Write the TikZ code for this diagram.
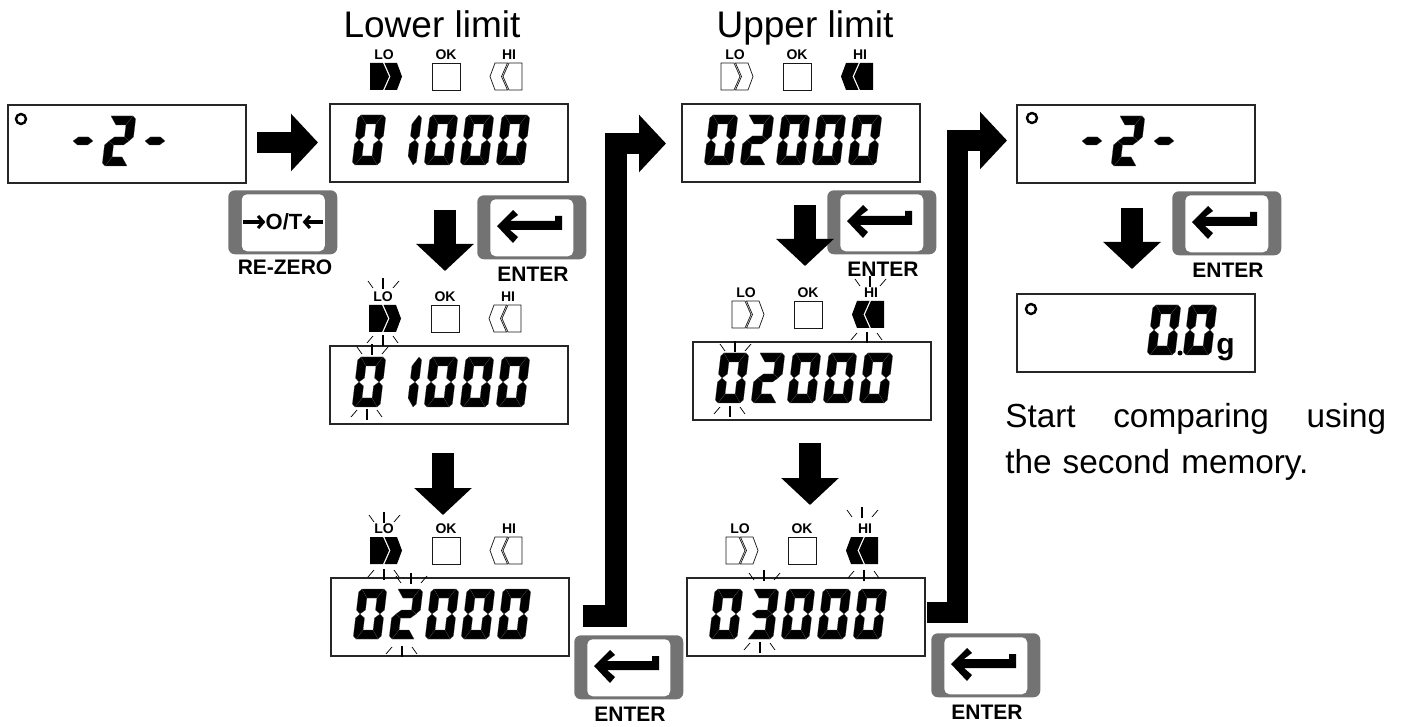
\documentclass[tikz,border=0pt]{standalone}
\usepackage{fontspec}
\setmainfont{Liberation Sans}
\usetikzlibrary{arrows.meta}

\tikzset{
  lcdbox/.style={draw=black!85,line width=0.8pt,fill=white,inner sep=0,outer sep=0,anchor=north west,minimum width=178.5pt,minimum height=58.5pt},
  lcdseg/.style={fill=black,draw=black!70,line width=0.12pt},
  lcddot/.style={draw=black,line width=1.8pt,fill=white,circle,inner sep=0,minimum size=7.5pt},
  lampon/.style={fill=black},
  lampoff/.style={fill=white,draw=black!90,line width=0.55pt},
  lamplabel/.style={font=\fontsize{10.5}{12}\selectfont\bfseries,inner sep=0},
  keybody/.style={fill=black!55,rounded corners=5pt,inner sep=0,anchor=north west,minimum width=81.75pt,minimum height=48pt},
  keyface/.style={fill=white,rounded corners=4pt,inner sep=0,anchor=north west,minimum width=62.25pt,minimum height=42.75pt},
  keylabel/.style={font=\fontsize{15.75}{18}\selectfont\bfseries,inner sep=0},
  headline/.style={font=\fontsize{27.75}{33}\selectfont,inner sep=0,anchor=base},
  blockarrow/.style={line width=16pt,line join=miter,-{Triangle[length=20.25pt,width=42pt]}},
  keyarrow/.style={line width=2.3pt,-{Straight Barb[length=4pt,width=9pt]}},
  blinkthick/.style={line width=1.3pt},
  blinkthin/.style={line width=0.55pt},
}

% segments of one digit, origin at its lower left corner
\def\segA{(3,50)--(25,50)--(19,41)--(9,41)--cycle}
\def\segB{(25,50)--(28,47)--(28,29)--(24,25)--(19,29)--(19,41)--cycle}
\def\segC{(28,21)--(24,25)--(19,21)--(19,9)--(25,0)--(28,3)--cycle}
\def\segD{(3,0)--(25,0)--(19,9)--(9,9)--cycle}
\def\segE{(0,21)--(4,25)--(9,21)--(9,9)--(3,0)--(0,3)--cycle}
\def\segF{(3,50)--(0,47)--(0,29)--(4,25)--(9,29)--(9,41)--cycle}
\def\segG{(4,25)--(9,29)--(19,29)--(24,25)--(19,21)--(9,21)--cycle}
\def\segX{(0,0)}
\expandafter\def\csname dig0\endcsname{A,B,C,D,E,F}
\expandafter\def\csname dig1\endcsname{B,C}
\expandafter\def\csname dig2\endcsname{A,B,G,E,D}
\expandafter\def\csname dig3\endcsname{A,B,G,C,D}
\expandafter\def\csname digm\endcsname{G}
\expandafter\def\csname digx\endcsname{X}

% box left, box top, characters
\newcommand{\lcdnum}[3]{
  \foreach \d [count=\i from 0] in {#3} {
    \begin{scope}[shift={(#1+22+36*\i,#2+61)},y=0.75pt,xslant=0.12]
      \expandafter\let\expandafter\seglist\csname dig\d\endcsname
      \foreach \s in \seglist { \path[lcdseg] \csname seg\s\endcsname; }
    \end{scope}
  }
}

% one chevron lamp
\newcommand{\lamp}[2]{
  \path[#1] #2 (0,0)--(13,0)--(19,13.5)--(13,27)--(0,27)--cycle;
  \path[#1] #2 (14.5,0)--(27,0)--(32,13.5)--(27,27)--(14.5,27)--(20.5,13.5)--cycle;
}

% name, x, y, state of LO, state of HI
\newcommand{\lamprow}[5]{
  \node[lamplabel] (#1lo) at (#2+14,#3-8) {LO};
  \node[lamplabel] (#1ok) at (#2+76,#3-8) {OK};
  \node[lamplabel] (#1hi) at (#2+139,#3-8) {HI};
  \begin{scope}[shift={(#2,#3)}] \lamp{#4}{} \end{scope}
  \path[lampoff] (#2+62,#3) rectangle (#2+90,#3+27);
  \begin{scope}[shift={(#2+152,#3)},xscale=-1] \lamp{#5}{} \end{scope}
}

\newcommand{\blinkup}[2]{
  \draw[blinkthick] (#1,#2) -- (#1,#2-11);
  \draw[blinkthin] (#1-10,#2-1) -- (#1-15,#2-8);
  \draw[blinkthin] (#1+10,#2-1) -- (#1+16,#2-8);
}
\newcommand{\blinkdown}[2]{
  \draw[blinkthick] (#1,#2) -- (#1,#2+11);
  \draw[blinkthin] (#1-10,#2+1) -- (#1-16,#2+8);
  \draw[blinkthin] (#1+10,#2+1) -- (#1+15,#2+8);
}

% name, x, y of the key
\newcommand{\enterkey}[3]{
  \node[keybody] (#1) at (#2,#3) {};
  \node[keyface] (#1face) at (#2+13,#3+4) {};
  \begin{scope}[shift={(#2,#3)}]
    \fill (85,21)--(85,35)--(33,35)--(41,42)--(36,48)--(20,31)--(36,15)--(41,20)--(33,26)--(78,26)--(78,21)--cycle;
    \node[keylabel] (#1label) at (56,79) {ENTER};
  \end{scope}
}

\begin{document}
\begin{tikzpicture}[x=0.75pt,y=-0.75pt]
  \useasboundingbox (0,0) rectangle (1404,727);

  \node[headline] (lowerTitle) at (432,38) {Lower limit};
  \node[headline] (upperTitle) at (805,38) {Upper limit};

  % left column
  \node[lcdbox] (boxStart) at (8,105) {};
  \node[lcddot] (dotStart) at (21,119) {};
  \lcdnum{8}{105}{x,m,2,m}

  \lamprow{rowB}{370}{63}{lampon}{lampoff}
  \node[lcdbox] (boxLow) at (330,104) {};
  \lcdnum{330}{104}{0,1,0,0,0}

  \lamprow{rowC}{369}{305}{lampon}{lampoff}
  \node[lcdbox] (boxLowBlink) at (330,346) {};
  \lcdnum{330}{346}{0,1,0,0,0}
  \blinkup{383}{289}
  \blinkdown{383}{335}
  \blinkup{372}{355}
  \blinkdown{367}{409}

  \lamprow{rowD}{370}{537}{lampon}{lampoff}
  \node[lcdbox] (boxLowSet) at (331,578) {};
  \lcdnum{331}{578}{0,2,0,0,0}
  \blinkup{384}{523}
  \blinkdown{384}{569}
  \blinkup{411}{584}
  \blinkdown{402}{646}

  % middle column
  \lamprow{rowE}{721}{63}{lampoff}{lampon}
  \node[lcdbox] (boxUp) at (682,104) {};
  \lcdnum{682}{104}{0,2,0,0,0}

  \lamprow{rowF}{732}{301}{lampoff}{lampon}
  \node[lcdbox] (boxUpBlink) at (693,342) {};
  \lcdnum{693}{342}{0,2,0,0,0}
  \blinkup{870}{287}
  \blinkdown{867}{332}
  \blinkup{735}{352}
  \blinkdown{730}{406}

  \lamprow{rowG}{726}{537}{lampoff}{lampon}
  \node[lcdbox] (boxUpSet) at (687,578) {};
  \lcdnum{687}{578}{0,3,0,0,0}
  \blinkup{862}{518}
  \blinkdown{864}{570}
  \blinkup{764}{581}
  \blinkdown{760}{642}

  % right column
  \node[lcdbox] (boxEnd) at (1017,105) {};
  \node[lcddot] (dotEnd) at (1032,118) {};
  \lcdnum{1017}{105}{x,m,2,m}

  \node[lcdbox] (boxRun) at (1017,294) {};
  \node[lcddot] (dotRun) at (1031,309) {};
  \lcdnum{1017}{294}{x,x,x,0,0}
  \fill (1180,353) circle (2.5);
  \node[inner sep=0,anchor=base west,font=\fontsize{22.5}{26}\selectfont\bfseries] (gramUnit) at (1216,355) {g};

  \node[inner sep=0,anchor=north west,text width=285.75pt,font=\fontsize{25}{34.5}\selectfont] (endNote) at (1005,403) {Start\hfill comparing\hfill using\\the second memory.};

  % keys
  \node[keybody] (keyZero) at (228,190) {};
  \node[keyface] (keyZeroFace) at (241.5,194) {};
  \node[inner sep=0,font=\fontsize{16.5}{20}\selectfont\bfseries] (keyZeroText) at (284,222) {O/T};
  \coordinate (zeroLeftFrom) at (243,222);
  \coordinate (zeroRightFrom) at (323,222);
  \draw[keyarrow] (zeroLeftFrom) -- (keyZeroText.west);
  \draw[keyarrow] (zeroRightFrom) -- (keyZeroText.east);
  \node[keylabel] (keyZeroLabel) at (285,267) {RE-ZERO};
  \enterkey{keyLow}{477}{195}
  \enterkey{keyLowNext}{574}{635}
  \enterkey{keyUp}{827}{190}
  \enterkey{keyUpNext}{931}{633}
  \enterkey{keyEnd}{1172}{191}

  % big arrows
  \coordinate (startFrom) at (257,142.5);
  \coordinate (startTo) at (318,142.5);
  \draw[blockarrow] (startFrom) -- (startTo);

  \coordinate (lowFromA) at (445,210);
  \coordinate (lowToA) at (445,271);
  \draw[blockarrow] (lowFromA) -- (lowToA);
  \coordinate (lowFromB) at (443,453);
  \coordinate (lowToB) at (443,515);
  \draw[blockarrow] (lowFromB) -- (lowToB);

  \coordinate (upFromA) at (805,205);
  \coordinate (upToA) at (805,266);
  \draw[blockarrow] (upFromA) -- (upToA);
  \coordinate (upFromB) at (810,443);
  \coordinate (upToB) at (810,505);
  \draw[blockarrow] (upFromB) -- (upToB);

  \coordinate (endFrom) at (1132,208);
  \coordinate (endTo) at (1132,269);
  \draw[blockarrow] (endFrom) -- (endTo);

  \coordinate (lowElbowFrom) at (583,616);
  \coordinate (lowElbowTo) at (666,143.5);
  \draw[blockarrow] (lowElbowFrom) -- (616,616) -- (616,143.5) -- (lowElbowTo);

  \coordinate (upElbowFrom) at (927,612.5);
  \coordinate (upElbowTo) at (1007,140.5);
  \draw[blockarrow] (upElbowFrom) -- (957.5,612.5) -- (957.5,140.5) -- (upElbowTo);
\end{tikzpicture}
\end{document}
